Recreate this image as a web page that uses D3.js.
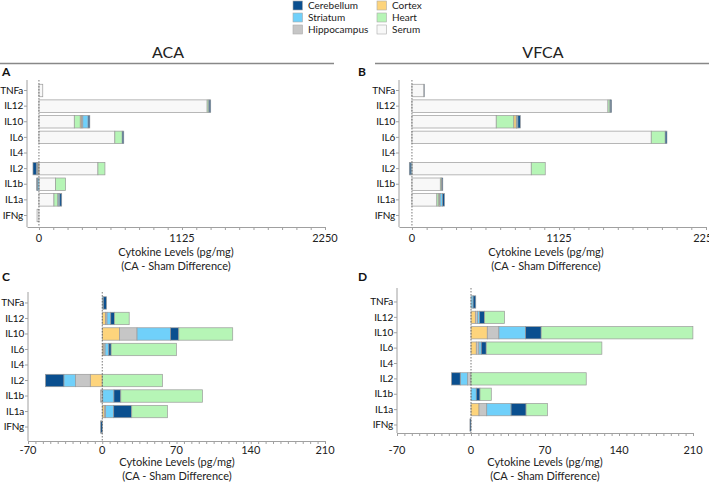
<!DOCTYPE html>
<html>
<head>
<meta charset="utf-8">
<script src="https://cdn.jsdelivr.net/npm/d3@7"></script>
<style>
  body { margin: 0; background: #fff; }
  svg { font-family: Lato, "Open Sans", sans-serif; }
</style>
</head>
<body>
<svg id="chart" width="709" height="484"></svg>
<script>
// categories, top to bottom
const cytokines = ["TNFa", "IL12", "IL10", "IL6", "IL4", "IL2", "IL1b", "IL1a", "IFNg"];
const tissues = ["Cerebellum", "Striatum", "Hippocampus", "Cortex", "Heart", "Serum"];
const tissueColors = ["#0a4f8f", "#70d0fa", "#c6c6c6", "#fdd47c", "#b6f5b6", "#f8f8f8"];

// A: ACA (values follow cytokine order)
const acaSerum       = [30, 1323, 278, 597, 0, 464, 130, 118, -15];
const acaHeart       = [0, 13, 47, 58, 0, 55, 80, 31, 0];
const acaCortex      = [0, 0, 10, 0, 0, -8, 0, 0, 0];
const acaHippocampus = [0, 0, 10, 0, 0, -5, 0, 3, 0];
const acaStriatum    = [0, 3, 42, 0, 0, -8, -12, 12, 0];
const acaCerebellum  = [0, 12, 13, 12, 0, -26, -6, 15, 0];

// B: VFCA
const vfcaSerum       = [92, 1500, 645, 1831, 0, 913, 217, 191, 0];
const vfcaHeart       = [0, 15, 135, 107, 0, 107, 10, 15, 0];
const vfcaCortex      = [0, 0, 18, 0, 0, 0, 0, 5, 0];
const vfcaHippocampus = [0, 0, 3, 0, 0, 0, 0, 5, 0];
const vfcaStriatum    = [0, 3, 10, 0, 0, -8, 3, 18, 0];
const vfcaCerebellum  = [2, 10, 18, 13, 0, -12, 6, 15, 0];

// C: ACA, tissue panel
const acaTisCortex      = [0, 3.2, 16.4, 1.5, 0, -11.3, 0.5, 1.9, 0];
const acaTisHippocampus = [0, 1.3, 16.4, 1.2, 0, -13.9, -1.5, 1.3, 0];
const acaTisStriatum    = [1, 3.5, 31.5, 3.5, 0, -11, 10.5, 7.6, 0];
const acaTisCerebellum  = [3, 3.5, 7.9, 2.2, 0, -17.3, 6.5, 17, -1.5];
const acaTisHeart       = [0, 13.9, 50.8, 61.5, 0, 56.7, 77, 33.7, 0];
const acaTisSerum       = [0, 0, 0, 0, 0, 0, 0, 0, 0];

// D: VFCA, tissue panel
const vfcaTisCortex      = [0, 4.1, 15.4, 5, 0, 0, 0, 7.6, 0];
const vfcaTisHippocampus = [0, 1.9, 11, 2.5, 0, -3.2, 0, 7.3, 0];
const vfcaTisStriatum    = [2, 2.2, 25.2, 2.2, 0, -7, 5, 23, 0];
const vfcaTisCerebellum  = [2.5, 4.7, 14.8, 4.7, 0, -8.2, 3.5, 14.2, -1];
const vfcaTisHeart       = [0, 18.9, 143.5, 109.4, 0, 109, 10.7, 20.2, 0];
const vfcaTisSerum       = [0, 0, 0, 0, 0, 0, 0, 0, 0];

const largeTicks = [0, 1125, 2250];
const smallTicks = [-70, 0, 70, 140, 210];

const svg = d3.select("#chart");
const color = d3.scaleOrdinal().domain(tissues).range(tissueColors);

function rowsFrom(arrs) {
  return cytokines.map((c, i) => {
    const r = { cytokine: c };
    tissues.forEach(t => r[t] = arrs[t][i]);
    return r;
  });
}

const panels = [
  {
    letter: "A", lx: 2, ly: 76,
    rows: rowsFrom({ Serum: acaSerum, Heart: acaHeart, Cortex: acaCortex, Hippocampus: acaHippocampus, Striatum: acaStriatum, Cerebellum: acaCerebellum }),
    order: ["Serum", "Heart", "Cortex", "Hippocampus", "Striatum", "Cerebellum"],
    xDomain: [-94, 2250], xRange: [27, 325], ticks: largeTicks, minor: d3.range(0, 2250.1, 112.5),
    yRange: [82.7, 223.3], yTop: 80, axisY: 227, labelY: 238, titleX: 176, titleY: 256
  },
  {
    letter: "B", lx: 358, ly: 76,
    rows: rowsFrom({ Serum: vfcaSerum, Heart: vfcaHeart, Cortex: vfcaCortex, Hippocampus: vfcaHippocampus, Striatum: vfcaStriatum, Cerebellum: vfcaCerebellum }),
    order: ["Serum", "Heart", "Cortex", "Hippocampus", "Striatum", "Cerebellum"],
    xDomain: [-99, 2250], xRange: [399, 706], ticks: largeTicks, minor: d3.range(0, 2250.1, 112.5),
    yRange: [82.7, 223.3], yTop: 80, axisY: 227, labelY: 238, titleX: 546, titleY: 256
  },
  {
    letter: "C", lx: 2, ly: 281,
    rows: rowsFrom({ Serum: acaTisSerum, Heart: acaTisHeart, Cortex: acaTisCortex, Hippocampus: acaTisHippocampus, Striatum: acaTisStriatum, Cerebellum: acaTisCerebellum }),
    order: ["Cortex", "Hippocampus", "Striatum", "Cerebellum", "Heart", "Serum"],
    xDomain: [-70, 210], xRange: [28, 325], ticks: smallTicks, minor: d3.range(-70, 210.1, 7),
    yRange: [295.2, 434.8], yTop: 292, axisY: 441, labelY: 450, titleX: 177, titleY: 466
  },
  {
    letter: "D", lx: 358, ly: 281,
    rows: rowsFrom({ Serum: vfcaTisSerum, Heart: vfcaTisHeart, Cortex: vfcaTisCortex, Hippocampus: vfcaTisHippocampus, Striatum: vfcaTisStriatum, Cerebellum: vfcaTisCerebellum }),
    order: ["Cortex", "Hippocampus", "Striatum", "Cerebellum", "Heart", "Serum"],
    xDomain: [-70, 210], xRange: [397, 693], ticks: smallTicks, minor: d3.range(-70, 210.1, 7),
    yRange: [294.3, 432.7], yTop: 288, axisY: 433, labelY: 450, titleX: 545, titleY: 466
  }
];

panels.forEach(p => {
  const g = svg.append("g");
  const x = d3.scaleLinear().domain(p.xDomain).range(p.xRange);
  const y = d3.scaleBand().domain(cytokines).range(p.yRange).paddingInner(0.2).paddingOuter(0.1);
  const series = d3.stack().keys(p.order).offset(d3.stackOffsetDiverging)(p.rows);

  // bars
  g.selectAll("g.series")
    .data(series)
    .enter().append("g")
    .attr("fill", d => color(d.key))
    .selectAll("rect")
    .data(d => d.filter(s => s[1] - s[0] !== 0))
    .enter().append("rect")
    .attr("x", d => x(Math.min(d[0], d[1])))
    .attr("width", d => Math.abs(x(d[1]) - x(d[0])))
    .attr("y", d => y(d.data.cytokine))
    .attr("height", y.bandwidth())
    .attr("stroke", "#9a9a9a")
    .attr("stroke-width", 0.7);

  // zero line
  g.append("line")
    .attr("x1", x(0)).attr("x2", x(0))
    .attr("y1", p.yTop).attr("y2", p.axisY)
    .attr("stroke", "#555").attr("stroke-width", 0.8)
    .attr("stroke-dasharray", "1.5,1.5");

  // y axis
  const yAxis = g.append("g")
    .attr("transform", `translate(${p.xRange[0]},0)`)
    .call(d3.axisLeft(y).tickSize(3).tickPadding(1).tickSizeOuter(0));
  yAxis.select(".domain").attr("d", `M0,${p.yTop}V${p.axisY}`);
  yAxis.selectAll("path, line").attr("stroke", "#a0a0a0");
  yAxis.selectAll("text")
    .attr("font-size", 10)
    .attr("letter-spacing", "-0.2px")
    .attr("fill", "#111")
    .attr("font-family", "Lato, sans-serif");

  // x axis with minor ticks
  const xAxis = g.append("g")
    .attr("transform", `translate(0,${p.axisY})`)
    .call(d3.axisBottom(x).tickValues(p.minor).tickSize(3).tickSizeOuter(0).tickFormat(""));
  xAxis.selectAll("path, line").attr("stroke", "#a0a0a0");

  g.selectAll("text.tick-label")
    .data(p.ticks)
    .enter().append("text")
    .attr("class", "tick-label")
    .attr("x", d => x(d))
    .attr("y", p.labelY)
    .attr("dy", "0.32em")
    .attr("text-anchor", "middle")
    .attr("font-size", 11)
    .attr("fill", "#222")
    .text(d => d);

  const title = g.append("text")
    .attr("x", p.titleX).attr("y", p.titleY)
    .attr("text-anchor", "middle")
    .attr("font-size", 11)
    .attr("fill", "#222");
  title.append("tspan").attr("x", p.titleX).text("Cytokine Levels (pg/mg)");
  title.append("tspan").attr("x", p.titleX).attr("dy", 14).text("(CA - Sham Difference)");

  g.append("text")
    .attr("x", p.lx).attr("y", p.ly)
    .attr("font-size", 12).attr("font-weight", "bold")
    .attr("fill", "#111")
    .text(p.letter);
});

// column headers
const headers = [
  { text: "ACA", x: 168, x1: 0, x2: 334 },
  { text: "VFCA", x: 543, x1: 375, x2: 709 }
];
headers.forEach(h => {
  svg.append("text")
    .attr("x", h.x).attr("y", 58)
    .attr("text-anchor", "middle")
    .attr("font-size", 16)
    .attr("fill", "#222")
    .text(h.text);
  svg.append("line")
    .attr("x1", h.x1).attr("x2", h.x2)
    .attr("y1", 63.5).attr("y2", 63.5)
    .attr("stroke", "#888").attr("stroke-width", 1.5);
});

// legend
const legendOrder = ["Cerebellum", "Striatum", "Hippocampus", "Cortex", "Heart", "Serum"];
const legend = svg.append("g")
  .selectAll("g")
  .data(legendOrder)
  .enter().append("g")
  .attr("transform", (d, i) => `translate(${i < 3 ? 293 : 377},${[5.5, 17.5, 29.5][i % 3]})`);
legend.append("rect")
  .attr("x", 0).attr("y", -4.5)
  .attr("width", 9.5).attr("height", 9)
  .attr("fill", d => color(d))
  .attr("stroke", "#aaa").attr("stroke-width", 0.6);
legend.append("text")
  .attr("x", 15).attr("y", 0)
  .attr("dy", "0.35em")
  .attr("font-size", 10)
  .attr("fill", "#222")
  .text(d => d);
</script>
</body>
</html>
